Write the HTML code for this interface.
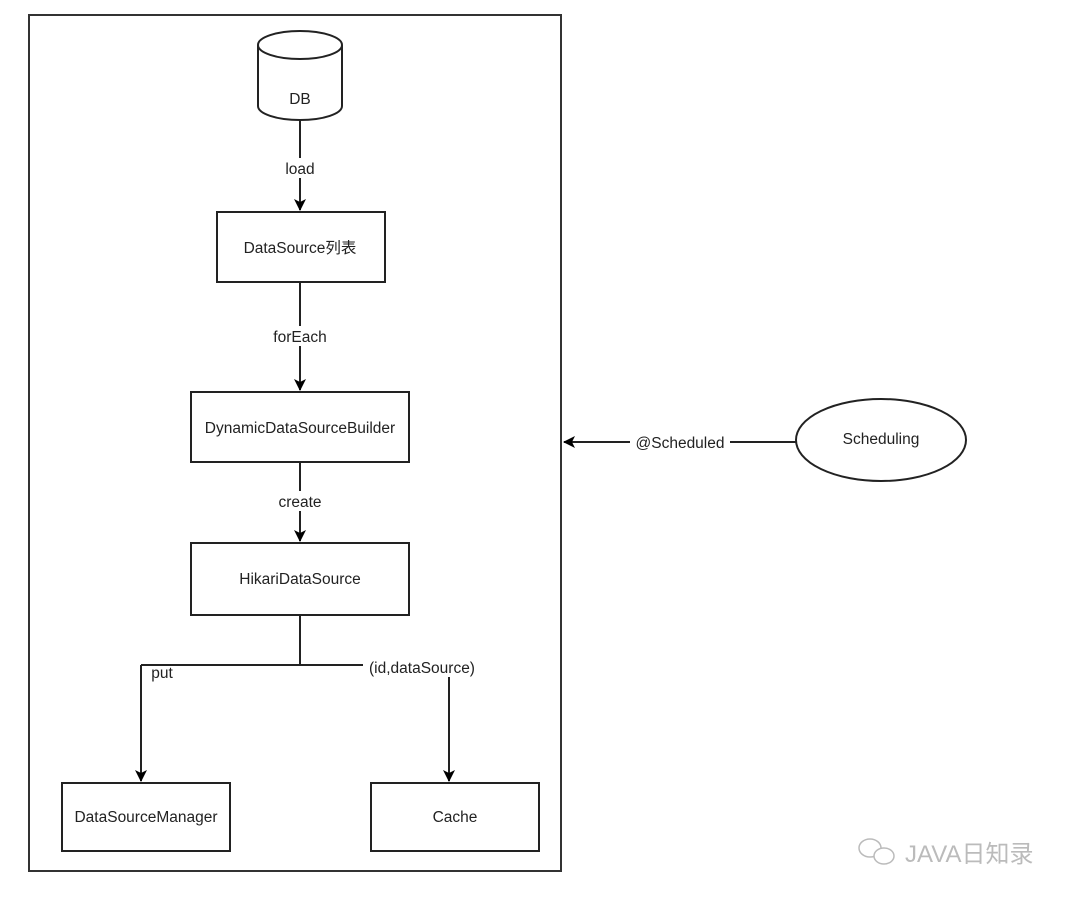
<!DOCTYPE html>
<html><head><meta charset="utf-8"><style>body{margin:0;background:#fff}svg{display:block}</style></head><body>
<svg width="1080" height="899" viewBox="0 0 1080 899" xmlns="http://www.w3.org/2000/svg" font-family="Liberation Sans, Noto Sans CJK SC, sans-serif" font-size="15.5" fill="#222">
<defs><marker id="a" markerWidth="12" markerHeight="12" refX="11" refY="6" orient="auto" markerUnits="userSpaceOnUse"><path d="M0,0 L12,6 L0,12 L3,6 z" fill="#000"/></marker></defs>
<g stroke="#222" stroke-width="2" fill="none">
<rect x="29" y="15" width="532" height="856" stroke="#333"/>
<path d="M258,45 L258,106 A42,14 0 0 0 342,106 L342,45" fill="#fff"/>
<ellipse cx="300" cy="45" rx="42" ry="14" fill="#fff"/>
<rect x="217" y="212" width="168" height="70" fill="#fff"/>
<rect x="191" y="392" width="218" height="70" fill="#fff"/>
<rect x="191" y="543" width="218" height="72" fill="#fff"/>
<rect x="62" y="783" width="168" height="68" fill="#fff"/>
<rect x="371" y="783" width="168" height="68" fill="#fff"/>
<ellipse cx="881" cy="440" rx="85" ry="41" fill="#fff"/>
<line x1="300" y1="120" x2="300" y2="210" marker-end="url(#a)"/>
<line x1="300" y1="282" x2="300" y2="390" marker-end="url(#a)"/>
<line x1="300" y1="462" x2="300" y2="541" marker-end="url(#a)"/>
<path d="M300,615 L300,665 M141,665 L363,665"/>
<path d="M141,665 L141,781" marker-end="url(#a)"/>
<path d="M449,677 L449,781" marker-end="url(#a)"/>
<line x1="796" y1="442" x2="564" y2="442" marker-end="url(#a)"/>
</g>
<g text-anchor="middle">
<text x="300" y="104">DB</text>
<rect x="283" y="158" width="34" height="20" fill="#fff"/><text x="300" y="174">load</text>
<rect x="270" y="326" width="60" height="20" fill="#fff"/><text x="300" y="342">forEach</text>
<rect x="275" y="491" width="50" height="20" fill="#fff"/><text x="300" y="507">create</text>
<text x="300" y="253">DataSource列表</text>
<text x="300" y="433">DynamicDataSourceBuilder</text>
<text x="300" y="584">HikariDataSource</text>
<text x="146" y="822">DataSourceManager</text>
<text x="455" y="822">Cache</text>
<text x="881" y="444">Scheduling</text>
<rect x="630" y="433" width="100" height="20" fill="#fff"/><text x="680" y="448">@Scheduled</text>
<text x="422" y="673">(id,dataSource)</text>
<text x="162" y="678">put</text>
</g>
<text x="905" y="862" font-size="24" fill="#bbb">JAVA日知录</text>
<g stroke="#bbb" stroke-width="1.5" fill="#fff"><ellipse cx="870" cy="848" rx="11" ry="9"/><ellipse cx="884" cy="856" rx="10" ry="8"/></g>
</svg>
</body></html>
